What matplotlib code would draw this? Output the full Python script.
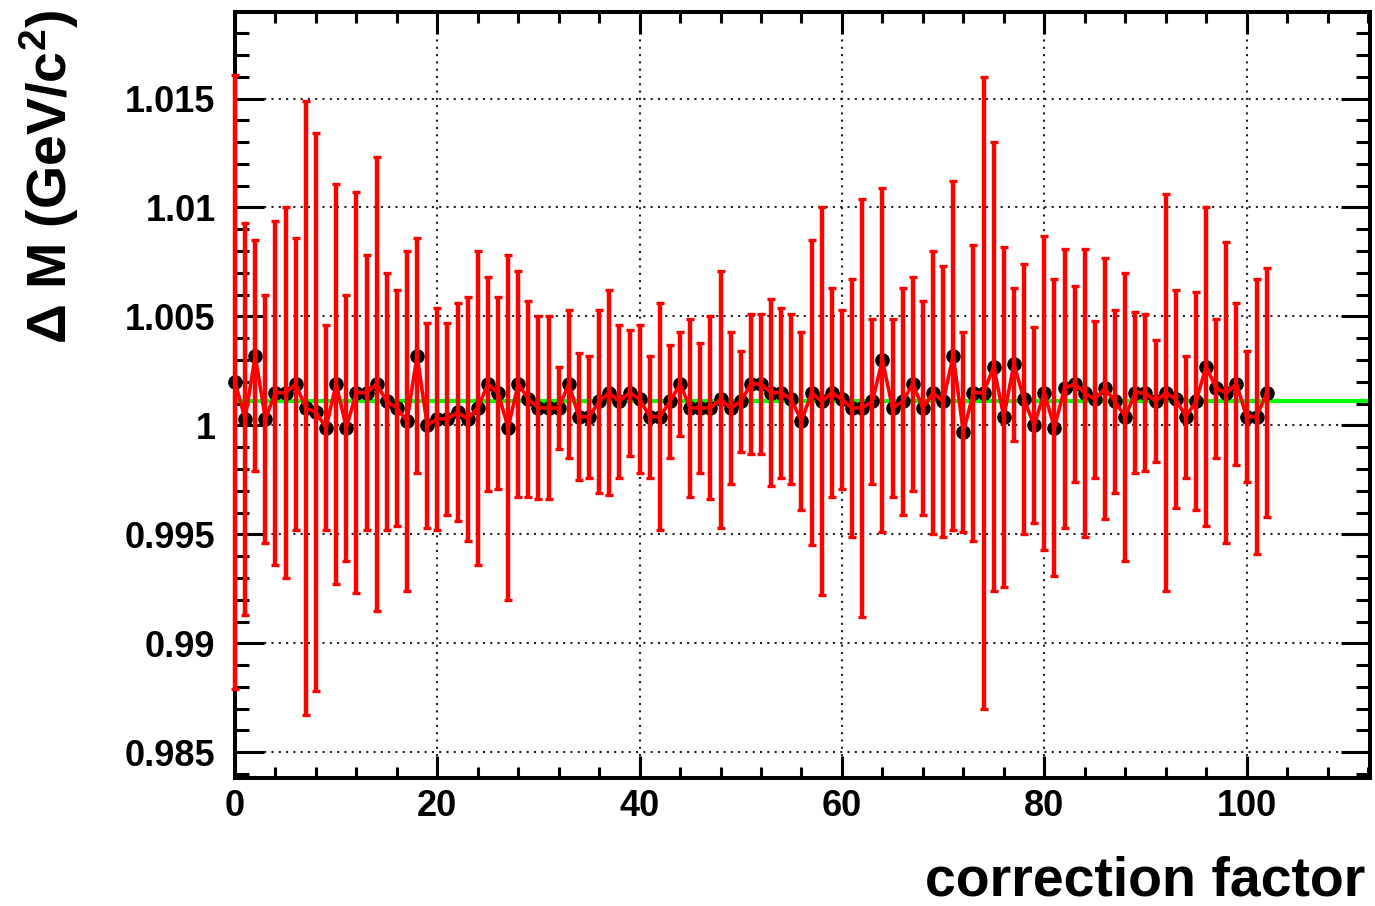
import numpy as np
import matplotlib
matplotlib.use("Agg")
import matplotlib.pyplot as plt
from matplotlib.ticker import MultipleLocator, FuncFormatter

plt.rcParams.update({
    "font.family": ["Liberation Sans", "DejaVu Sans"],
    "font.weight": "bold",
    "mathtext.fontset": "custom",
    "mathtext.rm": "Liberation Sans:bold",
    "mathtext.bf": "Liberation Sans:bold",
    "mathtext.it": "Liberation Sans:bold",
})

# data: mass ratio per correction factor
corr = np.arange(0, 103)
mass = [
    1.0020, 1.0003, 1.0032, 1.0003, 1.0015, 1.0015, 1.0019, 1.0008, 1.0006, 0.9999,
    1.0019, 0.9999, 1.0015, 1.0015, 1.0019, 1.0011, 1.0008, 1.0002, 1.0032, 1.0000,
    1.0003, 1.0003, 1.0006, 1.0003, 1.0008, 1.0019, 1.0015, 0.9999, 1.0019, 1.0012,
    1.0008, 1.0008, 1.0008, 1.0019, 1.0004, 1.0004, 1.0011, 1.0015, 1.0011, 1.0015,
    1.0012, 1.0004, 1.0004, 1.0011, 1.0019, 1.0008, 1.0008, 1.0008, 1.0012, 1.0008,
    1.0011, 1.0019, 1.0019, 1.0015, 1.0015, 1.0012, 1.0002, 1.0015, 1.0011, 1.0015,
    1.0012, 1.0008, 1.0008, 1.0011, 1.0030, 1.0008, 1.0011, 1.0019, 1.0008, 1.0015,
    1.0011, 1.0032, 0.9997, 1.0015, 1.0015, 1.0027, 1.0004, 1.0028, 1.0012, 1.0000,
    1.0015, 0.9999, 1.0017, 1.0019, 1.0015, 1.0012, 1.0017, 1.0011, 1.0004, 1.0015,
    1.0015, 1.0011, 1.0015, 1.0012, 1.0004, 1.0011, 1.0027, 1.0017, 1.0015, 1.0019,
    1.0004, 1.0004, 1.0015,
]
mass_err = [
    0.0141, 0.0090, 0.0053, 0.0057, 0.0079, 0.0085, 0.0067, 0.0141, 0.0128, 0.0047,
    0.0092, 0.0061, 0.0092, 0.0063, 0.0104, 0.0059, 0.0054, 0.0078, 0.0054, 0.0047,
    0.0051, 0.0044, 0.0050, 0.0056, 0.0072, 0.0049, 0.0044, 0.0079, 0.0052, 0.0045,
    0.0042, 0.0042, 0.0019, 0.0034, 0.0029, 0.0028, 0.0042, 0.0047, 0.0035, 0.0029,
    0.0034, 0.0028, 0.0052, 0.0026, 0.0024, 0.0041, 0.0030, 0.0042, 0.0059, 0.0035,
    0.0023, 0.0032, 0.0032, 0.0043, 0.0039, 0.0039, 0.0041, 0.0070, 0.0089, 0.0048,
    0.0041, 0.0059, 0.0096, 0.0038, 0.0079, 0.0041, 0.0052, 0.0049, 0.0049, 0.0065,
    0.0062, 0.0080, 0.0046, 0.0068, 0.0145, 0.0103, 0.0078, 0.0035, 0.0062, 0.0045,
    0.0072, 0.0068, 0.0064, 0.0045, 0.0066, 0.0036, 0.0060, 0.0042, 0.0066, 0.0037,
    0.0036, 0.0028, 0.0091, 0.0050, 0.0028, 0.0050, 0.0073, 0.0032, 0.0069, 0.0037,
    0.0030, 0.0063, 0.0057,
]
fit_const = 1.0011

fig = plt.figure(figsize=(13.75, 9.06), dpi=100)
ax = fig.add_axes([235 / 1375, 1 - 778 / 906, 1135 / 1375, 766 / 906])

ax.axhline(fit_const, color="#00ff00", lw=3, zorder=2)
ax.plot(corr, mass, "o", color="black", ms=9.5, zorder=3, clip_on=False)
ax.errorbar(corr, mass, yerr=mass_err, fmt="none", ecolor="red",
            elinewidth=3.2, capsize=3.2, capthick=2.4, zorder=4, clip_on=False)
ax.plot(corr, mass, color="red", lw=2.6, zorder=4, clip_on=False)

ax.set_xlim(0, 112.2)
ax.set_ylim(0.98382, 1.01897)

ax.xaxis.set_major_locator(MultipleLocator(20))
ax.xaxis.set_minor_locator(MultipleLocator(4))
ax.yaxis.set_major_locator(MultipleLocator(0.005))
ax.yaxis.set_minor_locator(MultipleLocator(0.001))
ax.yaxis.set_major_formatter(FuncFormatter(lambda v, p: f"{v:.4g}"))

ax.tick_params(which="both", direction="in", top=True, right=True, width=2.2,
               labelsize=26, colors="black")
ax.tick_params(axis="y", which="major", length=21, pad=14)
ax.tick_params(axis="y", which="minor", length=10)
ax.tick_params(axis="x", which="major", length=16, pad=8)
ax.tick_params(axis="x", which="minor", length=8)
for lab in ax.get_xticklabels() + ax.get_yticklabels():
    lab.set_fontweight("bold")

for sp in ax.spines.values():
    sp.set_linewidth(2.9)

ax.grid(True, which="major", color="#222222", lw=1.5, ls=(0, (1, 2.5)))
ax.set_axisbelow(True)

fig.text(0.036, 0.989, r"$\Delta$ M (GeV/c$^{2}$)", rotation=90,
         ha="center", va="top", fontsize=40, fontweight="bold")
fig.text(1365 / 1375, 10 / 906, "correction factor", ha="right",
         va="baseline", fontsize=40, fontweight="bold")

fig.savefig("out.png", dpi=100)
